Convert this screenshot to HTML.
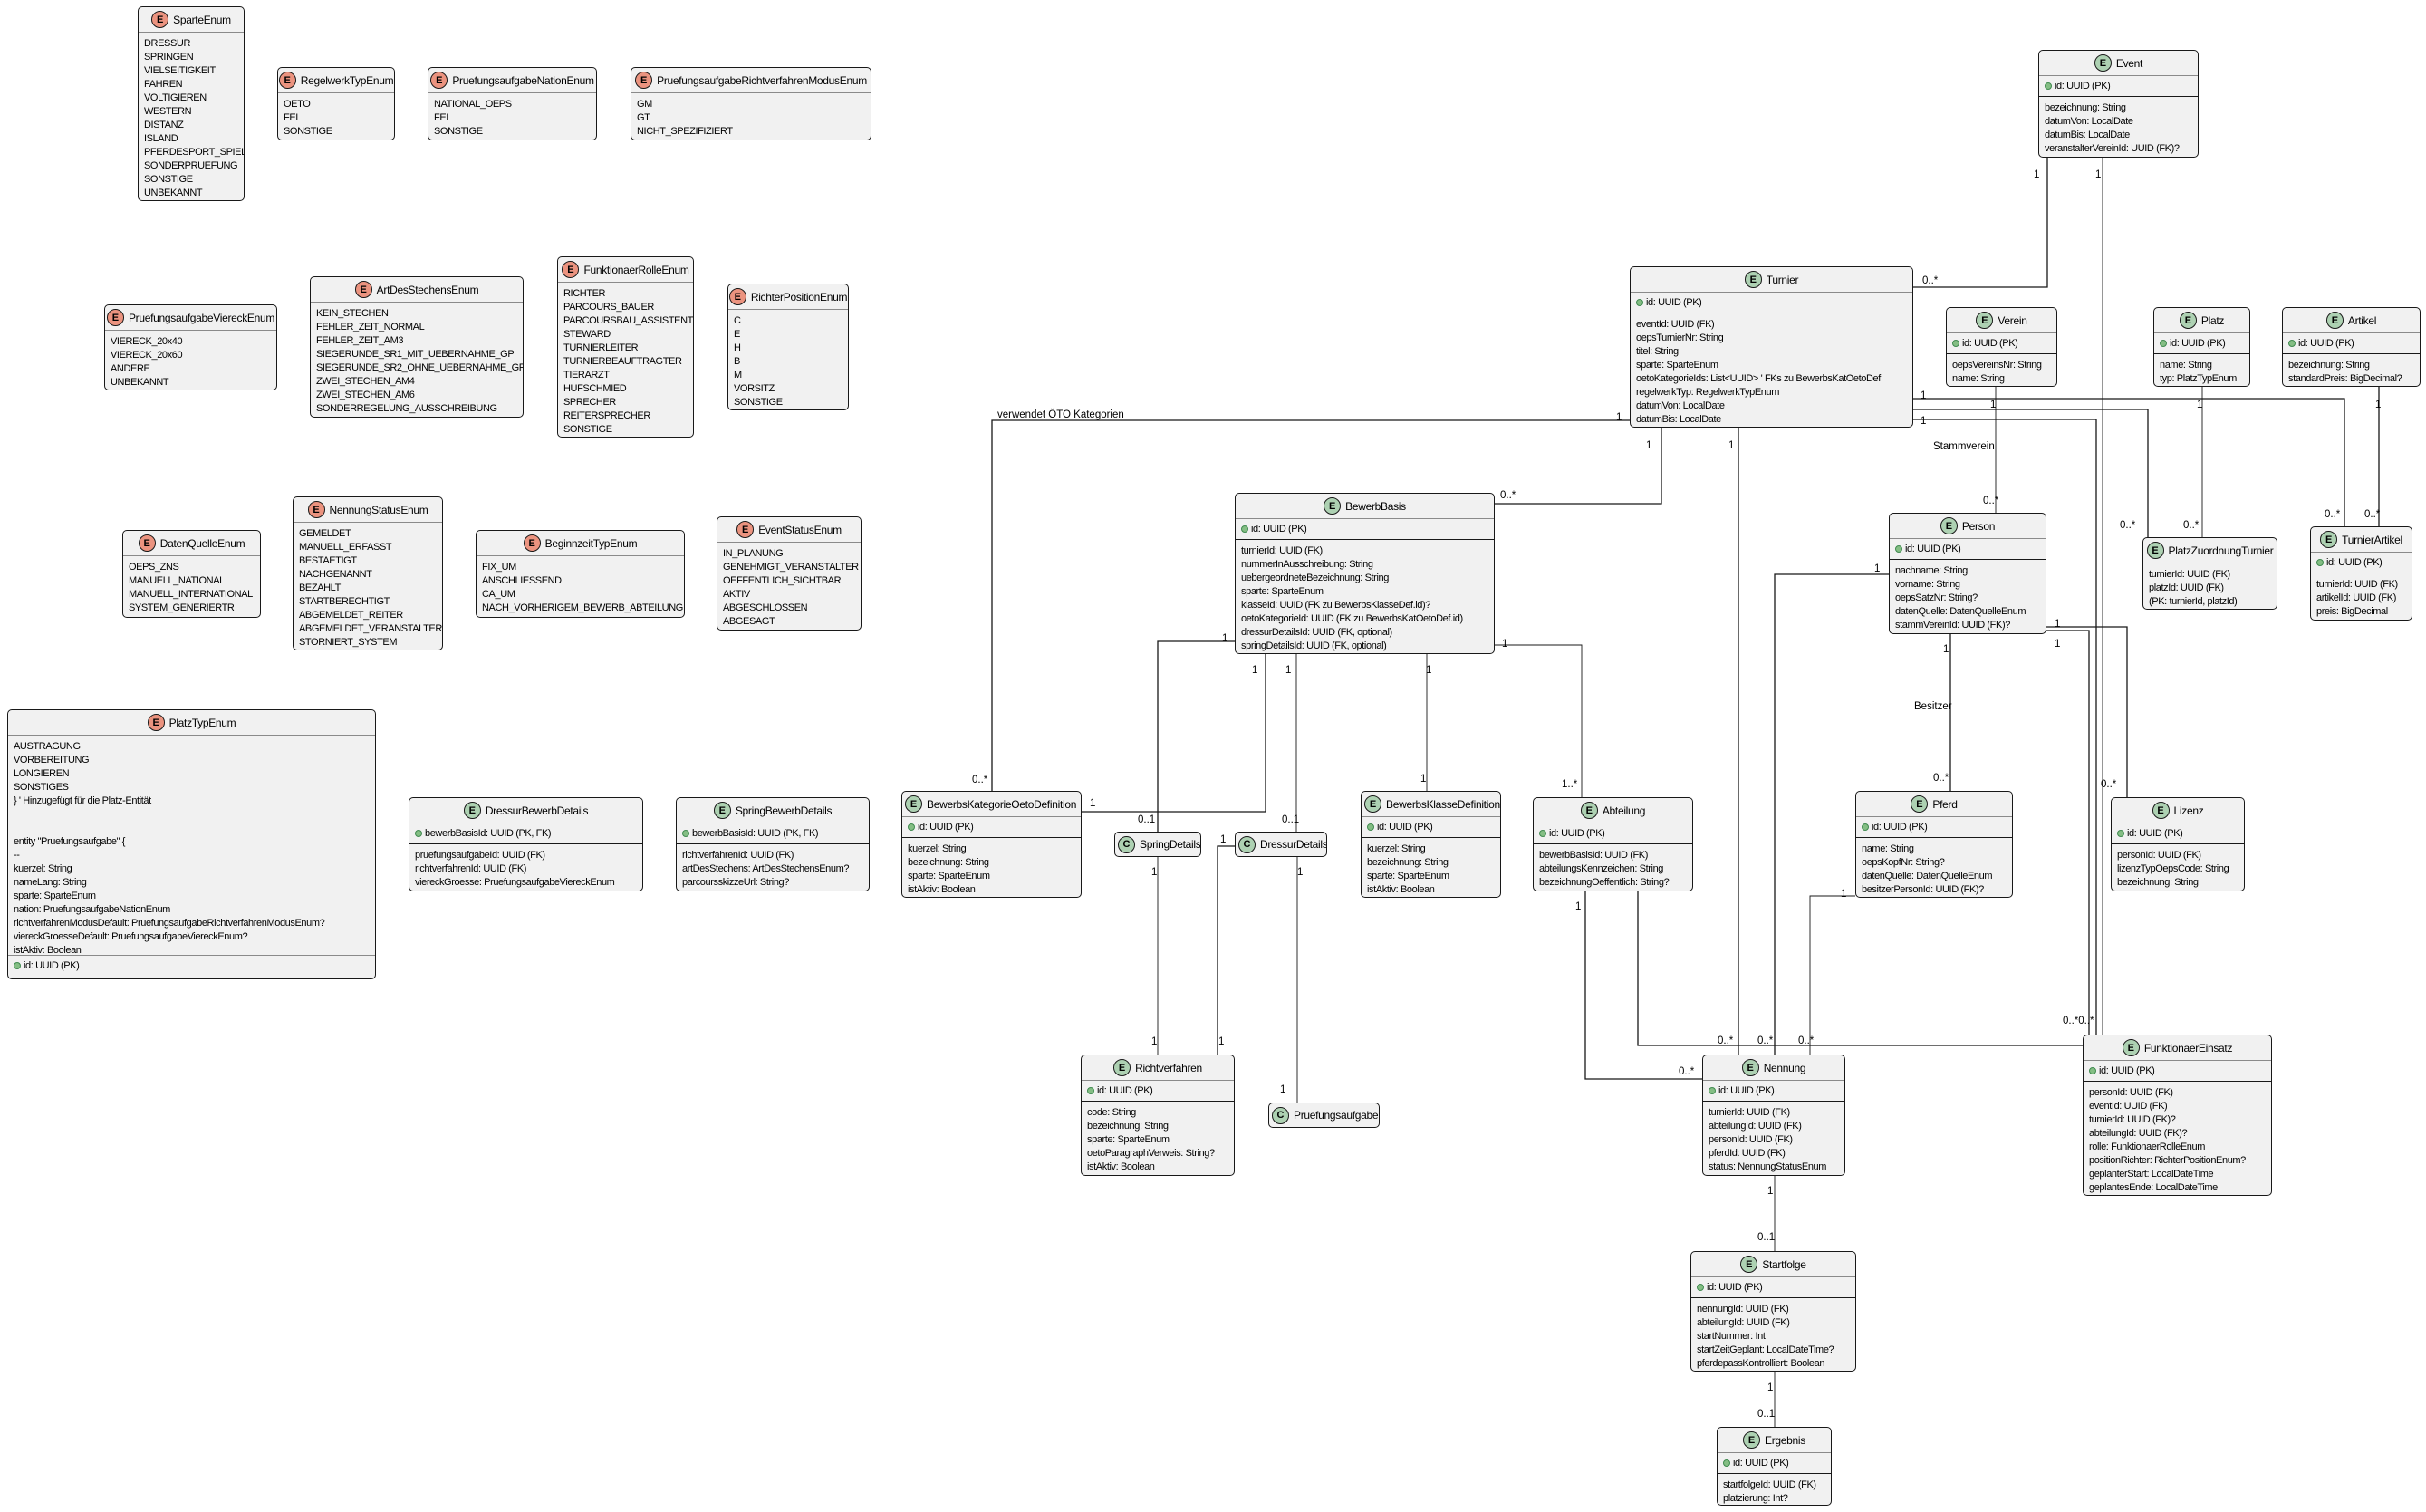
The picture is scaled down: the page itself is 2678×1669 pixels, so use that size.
<!DOCTYPE html>
<html><head><meta charset="utf-8">
<style>
html,body{margin:0;padding:0;background:#fff}
body{width:2678px;height:1669px;position:relative;overflow:hidden;font-family:"Liberation Sans",sans-serif}
svg{position:absolute;left:0;top:0}
.b{position:absolute;box-sizing:border-box;background:#F1F1F1;border:1px solid #181818;border-radius:5px;overflow:hidden;font-size:11px;letter-spacing:-0.4px;color:#000}
.h{height:28px;border-bottom:1px solid #8a8a8a;display:flex;align-items:center;justify-content:center;gap:5px;font-size:12px;letter-spacing:-0.3px;white-space:nowrap;box-sizing:border-box;padding:0 3px}
.c .h{border-bottom:none;justify-content:flex-start;height:26px}
.h i{font-style:normal;width:19px;height:19px;border-radius:50%;border:1px solid #181818;background:#ADD1B2;display:flex;align-items:center;justify-content:center;font-size:11px;letter-spacing:0;font-weight:bold;box-sizing:border-box;flex:none}
.h i.r{background:#EB937F}
.pk{height:23px;border-bottom:1.6px solid #181818;padding-left:6px;line-height:22px;white-space:nowrap;box-sizing:border-box}
.pk:before{content:"";display:inline-block;width:6px;height:6px;border-radius:50%;background:#84BE84;border:1px solid #3f8a4f;margin-right:3px;vertical-align:middle}
.a{padding:5px 5px 0 6px;line-height:15px;white-space:nowrap}
.a div{height:15px}
.pk2{border-top:1px solid #8a8a8a;border-bottom:none}
</style></head><body>
<svg width="2678" height="1669" viewBox="0 0 2678 1669">
<g fill="none" stroke="#181818" stroke-width="1.3">
<polyline points="2260,174 2260,317 2112,317"/>
<polyline points="2321,174 2321,1142" stroke-width="0.9"/>
<polyline points="1799,464 1095,464 1095,873"/>
<polyline points="1834,472 1834,556 1650,556"/>
<polyline points="1919,472 1919,1164"/>
<polyline points="2112,440 2588,440 2588,581"/>
<polyline points="2112,452 2371,452 2371,593"/>
<polyline points="2112,463 2314,463 2314,1142"/>
<polyline points="2203,427 2203,566" stroke-width="0.9"/>
<polyline points="2431,427 2431,593" stroke-width="0.9"/>
<polyline points="2626,427 2626,581"/>
<polyline points="2085,634 1959,634 1959,1164"/>
<polyline points="2259,692 2348,692 2348,880"/>
<polyline points="2259,696 2306,696 2306,1142"/>
<polyline points="2153,700 2153,873"/>
<polyline points="2048,989 1998,989 1998,1164" stroke-width="0.9"/>
<polyline points="1363,708 1278,708 1278,918"/>
<polyline points="1397,722 1397,896 1194,896"/>
<polyline points="1431,722 1431,918" stroke-width="0.9"/>
<polyline points="1575,722 1575,873" stroke-width="0.9"/>
<polyline points="1650,712 1746,712 1746,880" stroke-width="0.9"/>
<polyline points="1278,946 1278,1164" stroke-width="0.9"/>
<polyline points="1363,934 1344,934 1344,1164"/>
<polyline points="1432,946 1432,1217" stroke-width="0.9"/>
<polyline points="1750,984 1750,1191 1879,1191"/>
<polyline points="1808,984 1808,1154 2299,1154"/>
<polyline points="1959,1298 1959,1381" stroke-width="0.9"/>
<polyline points="1959,1514 1959,1575" stroke-width="0.9"/>
</g>
<g font-family="Liberation Sans, sans-serif" font-size="11.5" fill="#000" dominant-baseline="middle">
<text x="2245" y="193">1</text><text x="2122" y="310">0..*</text>
<text x="2313" y="193">1</text>
<text x="1101" y="458">verwendet ÖTO Kategorien</text>
<text x="1784" y="461">1</text><text x="1073" y="861">0..*</text>
<text x="1817" y="492">1</text><text x="1656" y="547">0..*</text>
<text x="1908" y="492">1</text><text x="1896" y="1149">0..*</text>
<text x="2120" y="437">1</text><text x="2566" y="568">0..*</text>
<text x="2340" y="580">0..*</text>
<text x="2120" y="465">1</text>
<text x="2197" y="447">1</text><text x="2134" y="493">Stammverein</text><text x="2189" y="553">0..*</text>
<text x="2425" y="447">1</text><text x="2410" y="580">0..*</text>
<text x="2622" y="447">1</text><text x="2610" y="568">0..*</text>
<text x="2069" y="628">1</text><text x="1940" y="1149">0..*</text>
<text x="2268" y="689">1</text><text x="2319" y="866">0..*</text>
<text x="2268" y="711">1</text><text x="2277" y="1127">0..*0..*</text>
<text x="2145" y="717">1</text><text x="2113" y="780">Besitzer</text><text x="2134" y="859">0..*</text>
<text x="2032" y="987">1</text><text x="1985" y="1149">0..*</text>
<text x="1349" y="705">1</text><text x="1256" y="905">0..1</text>
<text x="1382" y="740">1</text><text x="1203" y="887">1</text>
<text x="1419" y="740">1</text><text x="1415" y="905">0..1</text>
<text x="1574" y="740">1</text><text x="1568" y="860">1</text>
<text x="1658" y="711">1</text><text x="1724" y="866">1..*</text>
<text x="1271" y="963">1</text><text x="1271" y="1150">1</text>
<text x="1347" y="927">1</text><text x="1345" y="1150">1</text>
<text x="1432" y="963">1</text><text x="1413" y="1203">1</text>
<text x="1739" y="1001">1</text><text x="1853" y="1183">0..*</text>
<text x="1951" y="1315">1</text><text x="1940" y="1366">0..1</text>
<text x="1951" y="1532">1</text><text x="1940" y="1561">0..1</text>
</g>
</svg>

<div class="b" style="left:152px;top:7px;width:118px;height:215px"><div class="h"><i class="r">E</i>SparteEnum</div><div class="a"><div>DRESSUR</div><div>SPRINGEN</div><div>VIELSEITIGKEIT</div><div>FAHREN</div><div>VOLTIGIEREN</div><div>WESTERN</div><div>DISTANZ</div><div>ISLAND</div><div>PFERDESPORT_SPIEL</div><div>SONDERPRUEFUNG</div><div>SONSTIGE</div><div>UNBEKANNT</div></div></div>
<div class="b" style="left:306px;top:74px;width:130px;height:81px"><div class="h"><i class="r">E</i>RegelwerkTypEnum</div><div class="a"><div>OETO</div><div>FEI</div><div>SONSTIGE</div></div></div>
<div class="b" style="left:472px;top:74px;width:187px;height:81px"><div class="h"><i class="r">E</i>PruefungsaufgabeNationEnum</div><div class="a"><div>NATIONAL_OEPS</div><div>FEI</div><div>SONSTIGE</div></div></div>
<div class="b" style="left:696px;top:74px;width:266px;height:81px"><div class="h"><i class="r">E</i>PruefungsaufgabeRichtverfahrenModusEnum</div><div class="a"><div>GM</div><div>GT</div><div>NICHT_SPEZIFIZIERT</div></div></div>
<div class="b" style="left:115px;top:336px;width:191px;height:95px"><div class="h"><i class="r">E</i>PruefungsaufgabeViereckEnum</div><div class="a"><div>VIERECK_20x40</div><div>VIERECK_20x60</div><div>ANDERE</div><div>UNBEKANNT</div></div></div>
<div class="b" style="left:342px;top:305px;width:236px;height:156px"><div class="h"><i class="r">E</i>ArtDesStechensEnum</div><div class="a"><div>KEIN_STECHEN</div><div>FEHLER_ZEIT_NORMAL</div><div>FEHLER_ZEIT_AM3</div><div>SIEGERUNDE_SR1_MIT_UEBERNAHME_GP</div><div>SIEGERUNDE_SR2_OHNE_UEBERNAHME_GP</div><div>ZWEI_STECHEN_AM4</div><div>ZWEI_STECHEN_AM6</div><div>SONDERREGELUNG_AUSSCHREIBUNG</div></div></div>
<div class="b" style="left:615px;top:283px;width:151px;height:200px"><div class="h"><i class="r">E</i>FunktionaerRolleEnum</div><div class="a"><div>RICHTER</div><div>PARCOURS_BAUER</div><div>PARCOURSBAU_ASSISTENT</div><div>STEWARD</div><div>TURNIERLEITER</div><div>TURNIERBEAUFTRAGTER</div><div>TIERARZT</div><div>HUFSCHMIED</div><div>SPRECHER</div><div>REITERSPRECHER</div><div>SONSTIGE</div></div></div>
<div class="b" style="left:803px;top:313px;width:134px;height:140px"><div class="h"><i class="r">E</i>RichterPositionEnum</div><div class="a"><div>C</div><div>E</div><div>H</div><div>B</div><div>M</div><div>VORSITZ</div><div>SONSTIGE</div></div></div>
<div class="b" style="left:135px;top:585px;width:153px;height:97px"><div class="h"><i class="r">E</i>DatenQuelleEnum</div><div class="a"><div>OEPS_ZNS</div><div>MANUELL_NATIONAL</div><div>MANUELL_INTERNATIONAL</div><div>SYSTEM_GENERIERTR</div></div></div>
<div class="b" style="left:323px;top:548px;width:166px;height:170px"><div class="h"><i class="r">E</i>NennungStatusEnum</div><div class="a"><div>GEMELDET</div><div>MANUELL_ERFASST</div><div>BESTAETIGT</div><div>NACHGENANNT</div><div>BEZAHLT</div><div>STARTBERECHTIGT</div><div>ABGEMELDET_REITER</div><div>ABGEMELDET_VERANSTALTER</div><div>STORNIERT_SYSTEM</div></div></div>
<div class="b" style="left:525px;top:585px;width:231px;height:97px"><div class="h"><i class="r">E</i>BeginnzeitTypEnum</div><div class="a"><div>FIX_UM</div><div>ANSCHLIESSEND</div><div>CA_UM</div><div>NACH_VORHERIGEM_BEWERB_ABTEILUNG</div></div></div>
<div class="b" style="left:791px;top:570px;width:160px;height:126px"><div class="h"><i class="r">E</i>EventStatusEnum</div><div class="a"><div>IN_PLANUNG</div><div>GENEHMIGT_VERANSTALTER</div><div>OEFFENTLICH_SICHTBAR</div><div>AKTIV</div><div>ABGESCHLOSSEN</div><div>ABGESAGT</div></div></div>
<div class="b" style="left:8px;top:783px;width:407px;height:298px"><div class="h"><i class="r">E</i>PlatzTypEnum</div><div class="a" style="height:242px;box-sizing:border-box"><div>AUSTRAGUNG</div><div>VORBEREITUNG</div><div>LONGIEREN</div><div>SONSTIGES</div><div>} ' Hinzugefügt für die Platz-Entität</div><div></div><div></div><div>entity "Pruefungsaufgabe" {</div><div>--</div><div>kuerzel: String</div><div>nameLang: String</div><div>sparte: SparteEnum</div><div>nation: PruefungsaufgabeNationEnum</div><div>richtverfahrenModusDefault: PruefungsaufgabeRichtverfahrenModusEnum?</div><div>viereckGroesseDefault: PruefungsaufgabeViereckEnum?</div><div>istAktiv: Boolean</div></div><div class="pk pk2">id: UUID (PK)</div></div>

<div class="b" style="left:451px;top:880px;width:259px;height:104px"><div class="h"><i>E</i>DressurBewerbDetails</div><div class="pk">bewerbBasisId: UUID (PK, FK)</div><div class="a"><div>pruefungsaufgabeId: UUID (FK)</div><div>richtverfahrenId: UUID (FK)</div><div>viereckGroesse: PruefungsaufgabeViereckEnum</div></div></div>
<div class="b" style="left:746px;top:880px;width:214px;height:104px"><div class="h"><i>E</i>SpringBewerbDetails</div><div class="pk">bewerbBasisId: UUID (PK, FK)</div><div class="a"><div>richtverfahrenId: UUID (FK)</div><div>artDesStechens: ArtDesStechensEnum?</div><div>parcoursskizzeUrl: String?</div></div></div>

<div class="b" style="left:2250px;top:55px;width:177px;height:119px"><div class="h"><i>E</i>Event</div><div class="pk">id: UUID (PK)</div><div class="a"><div>bezeichnung: String</div><div>datumVon: LocalDate</div><div>datumBis: LocalDate</div><div>veranstalterVereinId: UUID (FK)?</div></div></div>
<div class="b" style="left:1799px;top:294px;width:313px;height:178px"><div class="h"><i>E</i>Turnier</div><div class="pk">id: UUID (PK)</div><div class="a"><div>eventId: UUID (FK)</div><div>oepsTurnierNr: String</div><div>titel: String</div><div>sparte: SparteEnum</div><div>oetoKategorieIds: List&lt;UUID&gt; ' FKs zu BewerbsKatOetoDef</div><div>regelwerkTyp: RegelwerkTypEnum</div><div>datumVon: LocalDate</div><div>datumBis: LocalDate</div></div></div>
<div class="b" style="left:2148px;top:339px;width:123px;height:88px"><div class="h"><i>E</i>Verein</div><div class="pk">id: UUID (PK)</div><div class="a"><div>oepsVereinsNr: String</div><div>name: String</div></div></div>
<div class="b" style="left:2377px;top:339px;width:107px;height:88px"><div class="h"><i>E</i>Platz</div><div class="pk">id: UUID (PK)</div><div class="a"><div>name: String</div><div>typ: PlatzTypEnum</div></div></div>
<div class="b" style="left:2519px;top:339px;width:153px;height:88px"><div class="h"><i>E</i>Artikel</div><div class="pk">id: UUID (PK)</div><div class="a"><div>bezeichnung: String</div><div>standardPreis: BigDecimal?</div></div></div>
<div class="b" style="left:1363px;top:544px;width:287px;height:178px"><div class="h"><i>E</i>BewerbBasis</div><div class="pk">id: UUID (PK)</div><div class="a"><div>turnierId: UUID (FK)</div><div>nummerInAusschreibung: String</div><div>uebergeordneteBezeichnung: String</div><div>sparte: SparteEnum</div><div>klasseId: UUID (FK zu BewerbsKlasseDef.id)?</div><div>oetoKategorieId: UUID (FK zu BewerbsKatOetoDef.id)</div><div>dressurDetailsId: UUID (FK, optional)</div><div>springDetailsId: UUID (FK, optional)</div></div></div>
<div class="b" style="left:2085px;top:566px;width:174px;height:134px"><div class="h"><i>E</i>Person</div><div class="pk">id: UUID (PK)</div><div class="a"><div>nachname: String</div><div>vorname: String</div><div>oepsSatzNr: String?</div><div>datenQuelle: DatenQuelleEnum</div><div>stammVereinId: UUID (FK)?</div></div></div>
<div class="b" style="left:2365px;top:593px;width:149px;height:80px"><div class="h"><i>E</i>PlatzZuordnungTurnier</div><div class="a"><div>turnierId: UUID (FK)</div><div>platzId: UUID (FK)</div><div>(PK: turnierId, platzId)</div></div></div>
<div class="b" style="left:2550px;top:581px;width:113px;height:104px"><div class="h"><i>E</i>TurnierArtikel</div><div class="pk">id: UUID (PK)</div><div class="a"><div>turnierId: UUID (FK)</div><div>artikelId: UUID (FK)</div><div>preis: BigDecimal</div></div></div>
<div class="b" style="left:995px;top:873px;width:199px;height:118px"><div class="h" style="justify-content:flex-start"><i>E</i>BewerbsKategorieOetoDefinition</div><div class="pk">id: UUID (PK)</div><div class="a"><div>kuerzel: String</div><div>bezeichnung: String</div><div>sparte: SparteEnum</div><div>istAktiv: Boolean</div></div></div>
<div class="b c" style="left:1230px;top:918px;width:96px;height:28px"><div class="h"><i>C</i>SpringDetails</div></div>
<div class="b c" style="left:1363px;top:918px;width:102px;height:28px"><div class="h"><i>C</i>DressurDetails</div></div>
<div class="b" style="left:1502px;top:873px;width:155px;height:118px"><div class="h" style="justify-content:flex-start"><i>E</i>BewerbsKlasseDefinition</div><div class="pk">id: UUID (PK)</div><div class="a"><div>kuerzel: String</div><div>bezeichnung: String</div><div>sparte: SparteEnum</div><div>istAktiv: Boolean</div></div></div>
<div class="b" style="left:1692px;top:880px;width:177px;height:104px"><div class="h"><i>E</i>Abteilung</div><div class="pk">id: UUID (PK)</div><div class="a"><div>bewerbBasisId: UUID (FK)</div><div>abteilungsKennzeichen: String</div><div>bezeichnungOeffentlich: String?</div></div></div>
<div class="b" style="left:2048px;top:873px;width:174px;height:118px"><div class="h"><i>E</i>Pferd</div><div class="pk">id: UUID (PK)</div><div class="a"><div>name: String</div><div>oepsKopfNr: String?</div><div>datenQuelle: DatenQuelleEnum</div><div>besitzerPersonId: UUID (FK)?</div></div></div>
<div class="b" style="left:2330px;top:880px;width:148px;height:104px"><div class="h"><i>E</i>Lizenz</div><div class="pk">id: UUID (PK)</div><div class="a"><div>personId: UUID (FK)</div><div>lizenzTypOepsCode: String</div><div>bezeichnung: String</div></div></div>
<div class="b" style="left:1193px;top:1164px;width:170px;height:134px"><div class="h"><i>E</i>Richtverfahren</div><div class="pk">id: UUID (PK)</div><div class="a"><div>code: String</div><div>bezeichnung: String</div><div>sparte: SparteEnum</div><div>oetoParagraphVerweis: String?</div><div>istAktiv: Boolean</div></div></div>
<div class="b c" style="left:1400px;top:1217px;width:123px;height:28px"><div class="h"><i>C</i>Pruefungsaufgabe</div></div>
<div class="b" style="left:1879px;top:1164px;width:158px;height:134px"><div class="h"><i>E</i>Nennung</div><div class="pk">id: UUID (PK)</div><div class="a"><div>turnierId: UUID (FK)</div><div>abteilungId: UUID (FK)</div><div>personId: UUID (FK)</div><div>pferdId: UUID (FK)</div><div>status: NennungStatusEnum</div></div></div>
<div class="b" style="left:2299px;top:1142px;width:209px;height:178px"><div class="h"><i>E</i>FunktionaerEinsatz</div><div class="pk">id: UUID (PK)</div><div class="a"><div>personId: UUID (FK)</div><div>eventId: UUID (FK)</div><div>turnierId: UUID (FK)?</div><div>abteilungId: UUID (FK)?</div><div>rolle: FunktionaerRolleEnum</div><div>positionRichter: RichterPositionEnum?</div><div>geplanterStart: LocalDateTime</div><div>geplantesEnde: LocalDateTime</div></div></div>
<div class="b" style="left:1866px;top:1381px;width:183px;height:133px"><div class="h"><i>E</i>Startfolge</div><div class="pk">id: UUID (PK)</div><div class="a"><div>nennungId: UUID (FK)</div><div>abteilungId: UUID (FK)</div><div>startNummer: Int</div><div>startZeitGeplant: LocalDateTime?</div><div>pferdepassKontrolliert: Boolean</div></div></div>
<div class="b" style="left:1895px;top:1575px;width:127px;height:87px"><div class="h"><i>E</i>Ergebnis</div><div class="pk">id: UUID (PK)</div><div class="a"><div>startfolgeId: UUID (FK)</div><div>platzierung: Int?</div></div></div>
</body></html>
